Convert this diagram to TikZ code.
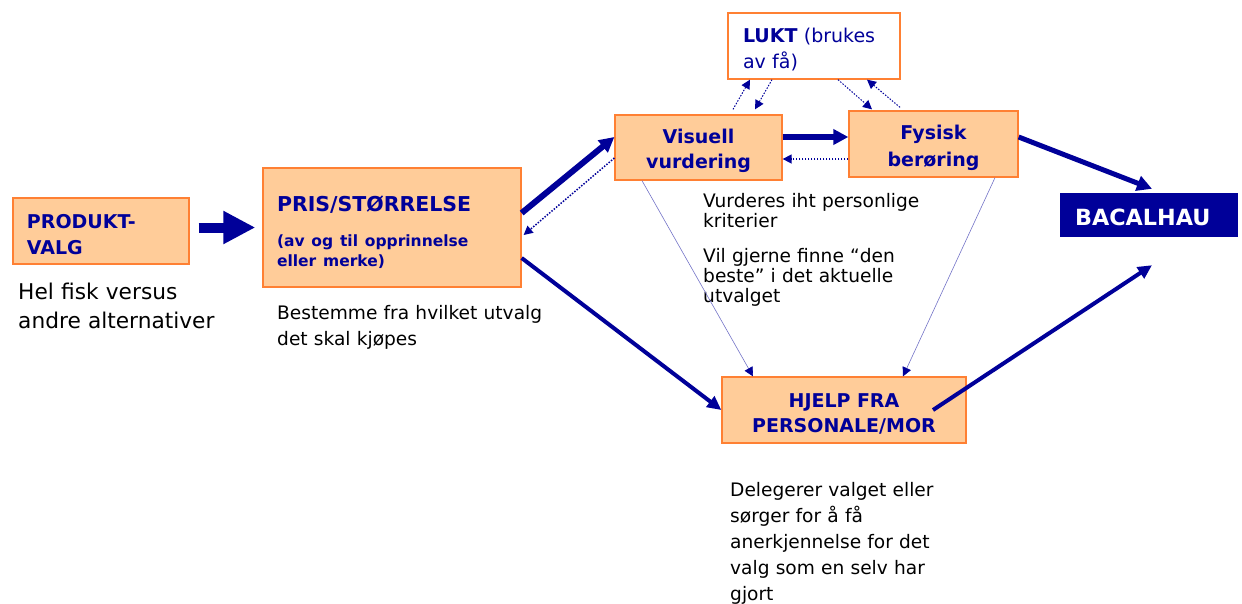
\documentclass[tikz,border=0pt]{standalone}
\usepackage{fontspec}
\setmainfont{DejaVu Sans}
\usepackage{tikz}
\usetikzlibrary{arrows.meta}
\definecolor{navy}{RGB}{0,0,153}
\definecolor{boxfill}{RGB}{255,204,153}
\definecolor{boxline}{RGB}{255,128,51}

\begin{document}
\begin{tikzpicture}[x=1pt,y=-1pt,
  stage/.style={draw=boxline,fill=boxfill,line width=1.3pt,text=navy,inner xsep=14pt,inner ysep=0pt,execute at begin node={\rule{0pt}{21.5pt}},font=\fontsize{19}{25.5}\selectfont\bfseries},
  remark/.style={anchor=base west,inner sep=0pt,text width=320pt,align=left,font=\fontsize{18.6}{20}\selectfont},
  main/.style={navy,line width=5pt,-{Triangle[length=15pt,width=15pt]}},
  back/.style={navy,line width=1.5pt,dash pattern=on 1.5pt off 1.5pt,-{Triangle[length=9pt,width=9pt]}},
  hint/.style={navy!55,line width=0.6pt,-{Triangle[length=9pt,width=9pt,color=navy]}}]
\useasboundingbox (0,0) rectangle (1242,603);

\node[stage,minimum height=66pt,text width=148pt,align=left] (prod) at (101,231) {PRODUKT-\\VALG};
\node[stage,minimum height=119pt,text width=230pt,align=left,execute at begin node={\rule{0pt}{25pt}},font=\fontsize{20.5}{26}\selectfont\bfseries] (pris) at (392,227.5) {PRIS/STØRRELSE\\[15pt]{\fontsize{15.5}{20}\selectfont(av og til opprinnelse\\[-6pt]eller merke)}};
\node[stage,minimum height=65pt,text width=139pt,align=center] (vis) at (698.5,147.5) {Visuell\\vurdering};
\node[stage,minimum height=66pt,text width=141pt,align=center] (fys) at (933.5,144) {Fysisk\\[1.5pt]berøring};
\node[stage,fill=white,minimum height=66pt,text width=142pt,align=left,inner xsep=15pt,font=\fontsize{19}{26}\selectfont] (lukt) at (814,46) {\textbf{LUKT} (brukes\\av få)};
\node[stage,minimum height=66pt,text width=216pt,align=center] (hjelp) at (844,410) {HJELP FRA\\PERSONALE/MOR};
\node[fill=navy,text=white,minimum height=44pt,text width=148pt,inner xsep=15pt,inner ysep=0pt,align=left,execute at begin node={\rule{0pt}{22.3pt}},font=\fontsize{22.3}{26}\selectfont\bfseries] (bac) at (1149,215) {BACALHAU};

\node[remark,font=\fontsize{21.7}{29}\selectfont] (helfisk) at (18,299) {Hel fisk versus\\andre alternativer};
\node[remark,font=\fontsize{18.6}{26}\selectfont] (bestemme) at (277,319) {Bestemme fra hvilket utvalg\\det skal kjøpes};
\node[remark] (vurderes) at (703,207) {Vurderes iht personlige\\kriterier};
\node[remark] (vilgjerne) at (703,262) {Vil gjerne finne “den\\beste” i det aktuelle\\utvalget};
\node[remark,font=\fontsize{18.6}{26}\selectfont] (delegerer) at (730,496) {Delegerer valget eller\\sørger for å få\\anerkjennelse for det\\valg som en selv har\\gjort};

\draw[navy,line width=10pt,-{Triangle[length=32pt,width=31pt]}] ([xshift=9pt,yshift=3.5pt]prod.east) -- ([xshift=-7pt]pris.west);
\draw[main,line width=6pt] ([yshift=14.5pt]pris.east) -- ([yshift=10.5pt]vis.west);
\draw[back] ([yshift=-10.5pt]vis.west) -- ([xshift=2pt,yshift=-7.5pt]pris.east);
\draw[main,line width=4pt,-{Triangle[length=14pt,width=13pt]}] ([yshift=-30.5pt]pris.east) -- (hjelp.west);
\draw[main,line width=6pt] ([yshift=10.5pt]vis.east) -- ([yshift=7pt]fys.west);
\draw[back] ([yshift=-15pt]fys.west) -- ([yshift=-11.5pt]vis.east);
\draw[main] ([yshift=7pt]fys.east) -- ([xshift=3pt,yshift=4pt]bac.north);
\draw[main,line width=4pt,-{Triangle[length=14pt,width=13pt]}] ([xshift=89pt]hjelp.center) -- ([xshift=3pt,yshift=-28pt]bac.south);
\draw[back,line width=1pt] ([xshift=34.5pt,yshift=5pt]vis.north) -- ([xshift=-64pt]lukt.south);
\draw[back,line width=1pt] ([xshift=-42pt]lukt.south) -- ([xshift=56.5pt,yshift=5pt]vis.north);
\draw[back,line width=1pt] ([xshift=24pt]lukt.south) -- ([xshift=-61.5pt,yshift=1pt]fys.north);
\draw[back,line width=1pt] ([xshift=-33.5pt,yshift=3pt]fys.north) -- ([xshift=53pt]lukt.south);
\draw[hint] ([xshift=-56.5pt]vis.south) -- ([xshift=-91pt]hjelp.north);
\draw[hint] ([xshift=61.5pt]fys.south) -- ([xshift=59pt]hjelp.north);

\end{tikzpicture}
\end{document}
